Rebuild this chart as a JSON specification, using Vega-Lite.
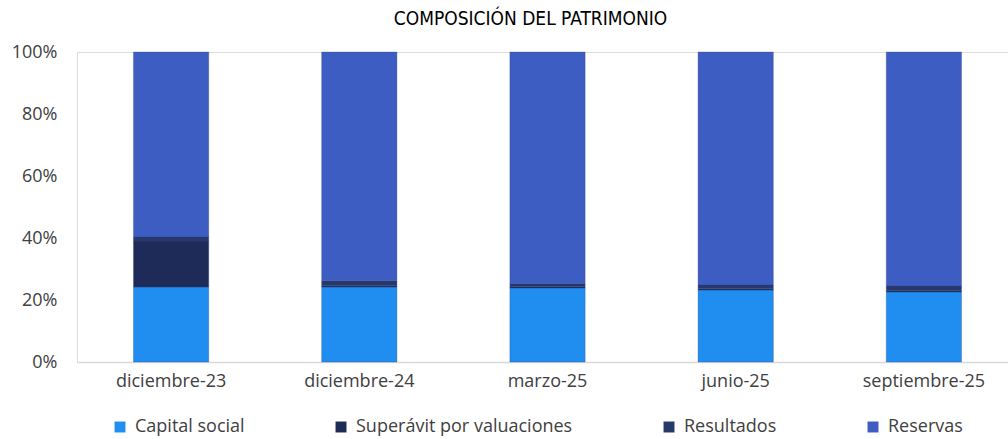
{
  "$schema": "https://vega.github.io/schema/vega-lite/v6.json",
  "width": 941,
  "height": 310,
  "autosize": "none",
  "padding": {"left": 77, "top": 52, "right": 0, "bottom": 77},
  "background": "white",
  "title": {
    "text": "COMPOSICIÓN DEL PATRIMONIO",
    "font": "DejaVu Sans Condensed",
    "fontSize": 19,
    "fontWeight": "normal",
    "color": "#000000",
    "anchor": "middle",
    "dx": -17,
    "offset": 14
  },
  "data": {
    "values": [
      {"periodo": "diciembre-23", "componente": "Capital social", "valor": 24.2},
      {"periodo": "diciembre-23", "componente": "Superávit por valuaciones", "valor": 14.8},
      {"periodo": "diciembre-23", "componente": "Resultados", "valor": 1.3},
      {"periodo": "diciembre-23", "componente": "Reservas", "valor": 59.7},
      {"periodo": "diciembre-24", "componente": "Capital social", "valor": 24.2},
      {"periodo": "diciembre-24", "componente": "Superávit por valuaciones", "valor": 0.5},
      {"periodo": "diciembre-24", "componente": "Resultados", "valor": 1.5},
      {"periodo": "diciembre-24", "componente": "Reservas", "valor": 73.8},
      {"periodo": "marzo-25", "componente": "Capital social", "valor": 23.9},
      {"periodo": "marzo-25", "componente": "Superávit por valuaciones", "valor": 0.4},
      {"periodo": "marzo-25", "componente": "Resultados", "valor": 1.0},
      {"periodo": "marzo-25", "componente": "Reservas", "valor": 74.7},
      {"periodo": "junio-25", "componente": "Capital social", "valor": 23.2},
      {"periodo": "junio-25", "componente": "Superávit por valuaciones", "valor": 0.4},
      {"periodo": "junio-25", "componente": "Resultados", "valor": 1.2},
      {"periodo": "junio-25", "componente": "Reservas", "valor": 75.2},
      {"periodo": "septiembre-25", "componente": "Capital social", "valor": 22.6},
      {"periodo": "septiembre-25", "componente": "Superávit por valuaciones", "valor": 0.4},
      {"periodo": "septiembre-25", "componente": "Resultados", "valor": 1.5},
      {"periodo": "septiembre-25", "componente": "Reservas", "valor": 75.5}
    ]
  },
  "transform": [
    {"calculate": "indexof(['Capital social', 'Superávit por valuaciones', 'Resultados', 'Reservas'], datum.componente)", "as": "orden_pila"}
  ],
  "mark": {"type": "bar", "stroke": "#2a3f80", "strokeWidth": 0.5, "strokeOpacity": 0.6},
  "encoding": {
    "x": {
      "field": "periodo",
      "type": "nominal",
      "sort": ["diciembre-23", "diciembre-24", "marzo-25", "junio-25", "septiembre-25"],
      "scale": {"paddingInner": 0.6, "paddingOuter": 0.3},
      "axis": {
        "title": null,
        "labelAngle": 0,
        "labelFont": "Open Sans",
        "labelFontSize": 18,
        "labelColor": "#404040",
        "labelPadding": 10,
        "ticks": false,
        "domainColor": "#d9d9d9",
        "domainWidth": 1.5,
        "grid": false
      }
    },
    "y": {
      "field": "valor",
      "type": "quantitative",
      "stack": "normalize",
      "scale": {"domain": [0, 1], "nice": false},
      "axis": {
        "title": null,
        "format": ".0%",
        "values": [0, 0.2, 0.4, 0.6, 0.8, 1],
        "labelFont": "Open Sans",
        "labelFontSize": 18,
        "labelColor": "#404040",
        "labelPadding": 20,
        "ticks": false,
        "domain": false,
        "grid": false
      }
    },
    "color": {
      "field": "componente",
      "type": "nominal",
      "sort": ["Capital social", "Superávit por valuaciones", "Resultados", "Reservas"],
      "scale": {
        "domain": ["Capital social", "Superávit por valuaciones", "Resultados", "Reservas"],
        "range": ["#1f8ef0", "#1e2b58", "#27386b", "#3d5dc2"]
      },
      "legend": {
        "title": null,
        "orient": "none",
        "direction": "horizontal",
        "legendX": 34,
        "legendY": 366,
        "symbolType": "square",
        "symbolSize": 120,
        "symbolStrokeWidth": 0,
        "labelFont": "Open Sans",
        "labelFontSize": 18,
        "labelLimit": 400,
        "labelColor": "#404040",
        "columnPadding": 87,
        "labelOffset": 6
      }
    },
    "order": {"field": "orden_pila", "type": "quantitative", "sort": "ascending"}
  }
}
